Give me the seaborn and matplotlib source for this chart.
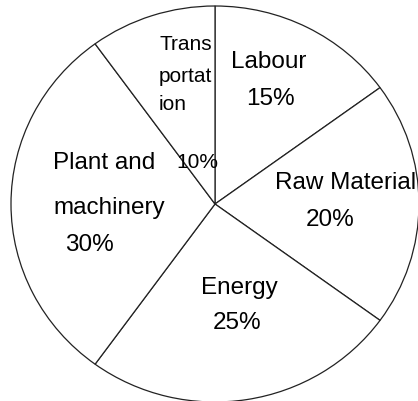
import matplotlib.pyplot as plt
import seaborn as sns

# --- Data ---
categories = ['Labour', 'Raw Material', 'Energy', 'Plant and machinery', 'Transportation']
shares = [15, 20, 25, 30, 10]
label_lines = [
    ['Labour', '15%'],
    ['Raw Material', '20%'],
    ['Energy', '25%'],
    ['Plant and', 'machinery', '30%'],
    ['Trans', 'portat', 'ion', '10%'],
]

# --- Layout (pixel positions of text, measured from top-left) ---
W, H = 418, 402
CX, CY, RX, RY = 215, 205, 204, 198
label_pos = [
    [(269, 62, 'center'), (270, 99, 'center')],
    [(346, 183, 'center'), (330, 220, 'center')],
    [(239, 288, 'center'), (237, 323, 'center')],
    [(53, 163, 'left'), (53, 208, 'left'), (89, 245, 'center')],
    [(159, 44, 'left'), (159, 76, 'left'), (159, 105, 'left'), (197, 162, 'center')],
]
label_size = [17.5, 17.5, 17.5, 17.5, 15]

sns.set_style('white')
plt.rcParams['font.family'] = ['Liberation Sans', 'DejaVu Sans']

fig = plt.figure(figsize=(W / 100, H / 100), dpi=100)
ax = fig.add_axes([0, 0, 1, 1])

ax.pie(shares, startangle=90, counterclock=False, radius=1,
       colors=['white'] * len(shares),
       wedgeprops={'edgecolor': '#222222', 'linewidth': 0.9})

# slightly squashed circle like the original drawing
ax.set_aspect('auto')
ax.set_xlim(-CX / RX, (W - CX) / RX)
ax.set_ylim(-(H - CY) / RY, CY / RY)
ax.axis('off')

for lines, pos, fs in zip(label_lines, label_pos, label_size):
    for txt, (px, py, ha) in zip(lines, pos):
        ax.text(px / W, 1 - py / H, txt, transform=ax.transAxes,
                ha=ha, va='center', fontsize=fs, color='black')

plt.savefig('out.png', dpi=100, facecolor='white')
